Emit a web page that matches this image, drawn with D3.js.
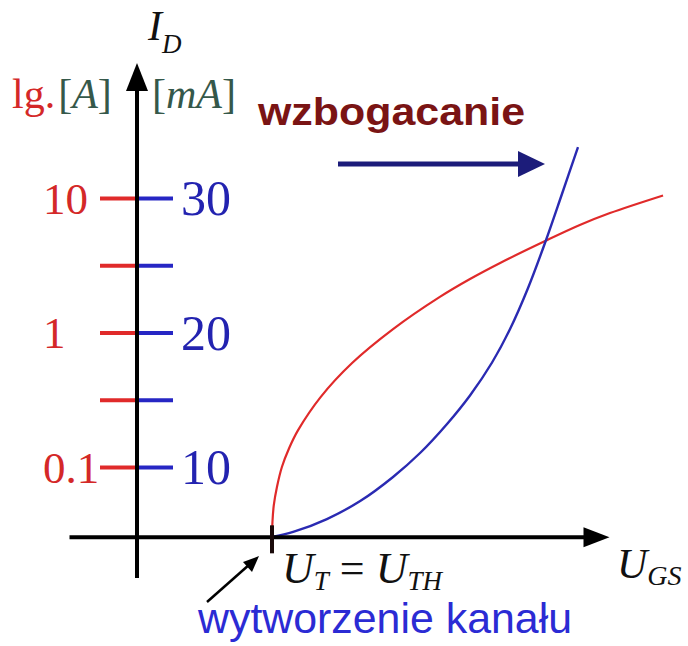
<!DOCTYPE html>
<html><head><meta charset="utf-8">
<script src="https://cdn.jsdelivr.net/npm/d3@7"></script>
<style>
body{margin:0;background:#fff}
svg{display:block}
.serif{font-family:"Liberation Serif","Times New Roman",serif}
.sans{font-family:"Liberation Sans",Arial,sans-serif}
</style>
</head><body>
<svg id="chart" width="688" height="646"></svg>
<script>
// Transfer characteristic of an enhancement-mode MOSFET: I_D versus U_GS
const thresholdU = 3.0;                    // V, channel forms here
const axisU = [-1.5, 10.5];                // extent of the U_GS axis line

// drain current on a logarithmic scale (A)
const logU = [3.0, 3.01, 3.04, 3.11, 3.22, 3.38, 3.58, 4.08, 4.78, 5.69, 6.73, 7.4, 8.07, 9.07, 9.84, 10.51, 11.69];
const logI = [0.03, 0.039, 0.0521, 0.071, 0.1, 0.138, 0.188, 0.331, 0.593, 1.06, 1.84, 2.5, 3.29, 4.79, 6.3, 7.73, 10.45];

// drain current on a linear scale (mA)
const linU = [3.0, 3.47, 4.22, 4.96, 5.69, 6.29, 6.89, 7.4, 7.89, 8.29, 8.69, 9.07, 9.44, 9.8];
const linI = [4.8, 5.17, 6.13, 7.47, 9.26, 11.04, 13.2, 15.32, 17.77, 20.26, 23.31, 26.69, 30.26, 33.79];

const logTicks = [0.1, 0.316, 1, 3.16, 10];
const logLabels = ["0.1", "", "1", "", "10"];
const linTicks = [10, 15, 20, 25, 30];
const linLabels = ["10", "", "20", "", "30"];
const logFloor = 0.03;                     // value at the U_GS axis line (A)

const svg = d3.select("#chart");

const x = d3.scaleLinear().domain([0, 10]).range([137, 587]);
const yLog = d3.scaleLog().domain([0.1, 10]).range([467, 198]);
const yLin = d3.scaleLinear().domain([10, 30]).range([467, 198]);
const baseY = yLog(logFloor);
const x0 = x(0);

const RED = "#e02a2a", BLUE = "#2626c4", NAVY = "#1c1c7a", INK = "#35584a";

// --- tick marks of the two current scales ---
const gLog = svg.append("g").attr("transform", `translate(${x0},0)`)
  .call(d3.axisLeft(yLog).tickValues(logTicks).tickSize(37).tickPadding(0)
    .tickFormat((d, i) => logLabels[i]));
gLog.select(".domain").remove();
gLog.selectAll(".tick line").attr("stroke", RED).attr("stroke-width", 4);
gLog.selectAll(".tick text")
  .attr("class", "serif").attr("text-anchor", "start").attr("x", -94).attr("dy", "0.34em")
  .attr("fill", "#d42828").attr("font-size", 45);

const gLin = svg.append("g").attr("transform", `translate(${x0},0)`)
  .call(d3.axisRight(yLin).tickValues(linTicks).tickSize(36).tickPadding(8)
    .tickFormat((d, i) => linLabels[i]));
gLin.select(".domain").remove();
gLin.selectAll(".tick line").attr("stroke", BLUE).attr("stroke-width", 4);
gLin.selectAll(".tick text")
  .attr("class", "serif").attr("dy", "0.33em")
  .attr("fill", "#2323b0").attr("font-size", 50);

// --- curves ---
const logLine = d3.line().x(d => x(d[0])).y(d => yLog(d[1])).curve(d3.curveCatmullRom.alpha(0.5));
const linLine = d3.line().x(d => x(d[0])).y(d => yLin(d[1])).curve(d3.curveCatmullRom.alpha(0.5));

svg.append("path").datum(d3.zip(logU, logI)).attr("d", logLine)
  .attr("fill", "none").attr("stroke", RED).attr("stroke-width", 2.2);
svg.append("path").datum(d3.zip(linU, linI)).attr("d", linLine)
  .attr("fill", "none").attr("stroke", "#2a2ab2").attr("stroke-width", 2.4);

// --- axes with arrowheads ---
svg.append("line").attr("x1", x(axisU[0])).attr("x2", x(axisU[1]) - 22)
  .attr("y1", baseY).attr("y2", baseY).attr("stroke", "#000").attr("stroke-width", 4);
svg.append("path")
  .attr("d", `M${x(axisU[1])},${baseY} L${x(axisU[1]) - 26},${baseY - 10} L${x(axisU[1]) - 26},${baseY + 10}Z`)
  .attr("fill", "#000");

svg.append("line").attr("x1", x0).attr("x2", x0).attr("y1", 578).attr("y2", 86)
  .attr("stroke", "#000").attr("stroke-width", 4);
svg.append("path").attr("d", `M${x0},63 L${x0 - 11},91 L${x0 + 11},91Z`).attr("fill", "#000");

// threshold mark on the U_GS axis
svg.append("line").attr("x1", x(thresholdU)).attr("x2", x(thresholdU))
  .attr("y1", baseY - 12).attr("y2", baseY + 16).attr("stroke", "#1a0a0a").attr("stroke-width", 4);

// --- axis titles ---
const id = svg.append("text").attr("class", "serif").attr("x", 148).attr("y", 40)
  .attr("font-style", "italic").attr("font-size", 42).attr("fill", "#111");
id.append("tspan").text("I");
id.append("tspan").attr("dy", 13).attr("font-size", 27).text("D");

const units = svg.append("text").attr("class", "serif").attr("x", 12).attr("y", 108)
  .attr("font-size", 42);
units.append("tspan").attr("fill", "#d42828").text("lg.");
units.append("tspan").attr("fill", INK).attr("dx", 3).text("[");
units.append("tspan").attr("fill", INK).attr("font-style", "italic").text("A");
units.append("tspan").attr("fill", INK).text("]");

const units2 = svg.append("text").attr("class", "serif").attr("x", 152).attr("y", 108)
  .attr("font-size", 42).attr("fill", INK);
units2.append("tspan").text("[");
units2.append("tspan").attr("font-style", "italic").text("mA");
units2.append("tspan").text("]");

const ugs = svg.append("text").attr("class", "serif").attr("x", 617).attr("y", 578)
  .attr("font-style", "italic").attr("font-size", 42).attr("fill", "#111");
ugs.append("tspan").text("U");
ugs.append("tspan").attr("dy", 7).attr("font-size", 28).text("GS");

const ut = svg.append("text").attr("class", "serif").attr("x", 282).attr("y", 583)
  .attr("font-style", "italic").attr("font-size", 44).attr("fill", "#111");
ut.append("tspan").text("U");
ut.append("tspan").attr("dy", 7).attr("font-size", 27).text("T");
ut.append("tspan").attr("dy", -7).attr("font-style", "normal").text(" = ");
ut.append("tspan").text("U");
ut.append("tspan").attr("dy", 7).attr("font-size", 27).text("TH");

// --- annotations ---
svg.append("text").attr("class", "sans").attr("x", 258).attr("y", 125)
  .attr("font-size", 38).attr("font-weight", "bold").attr("fill", "#7a1414")
  .attr("textLength", 267).attr("lengthAdjust", "spacingAndGlyphs").text("wzbogacanie");

svg.append("line").attr("x1", 338).attr("x2", 522).attr("y1", 164).attr("y2", 164)
  .attr("stroke", NAVY).attr("stroke-width", 5);
svg.append("path").attr("d", "M545,164 L518,151 L518,177Z").attr("fill", NAVY);

svg.append("text").attr("class", "sans").attr("x", 198).attr("y", 633)
  .attr("font-size", 42).attr("fill", "#2b2bd4")
  .attr("textLength", 374).attr("lengthAdjust", "spacingAndGlyphs").text("wytworzenie kanału");

svg.append("line").attr("x1", 207).attr("y1", 602).attr("x2", 250).attr("y2", 564)
  .attr("stroke", "#000").attr("stroke-width", 2.5);
svg.append("path").attr("d", "M259,556 L243,562 L252,572Z").attr("fill", "#000");
</script>
</body></html>
